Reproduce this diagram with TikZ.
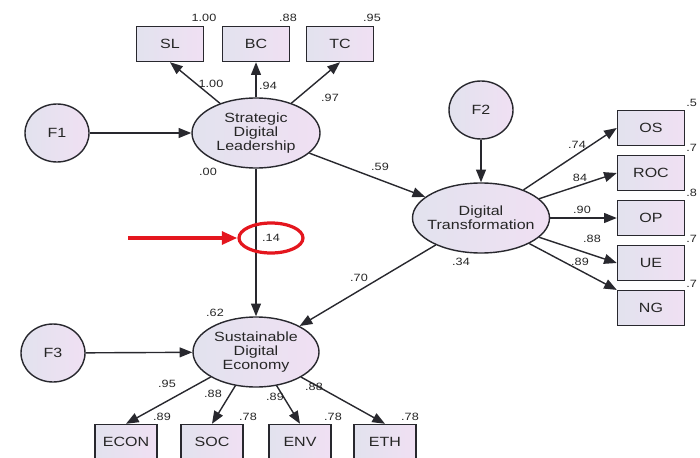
\documentclass[tikz,border=0pt]{standalone}
\usepackage{fontspec}
\setmainfont[FakeStretch=1.2]{Liberation Sans}
\usepackage{xcolor}
\usetikzlibrary{arrows.meta,positioning,shapes.geometric}
\definecolor{semleft}{RGB}{226,226,238}
\definecolor{semright}{RGB}{240,224,243}
\definecolor{semline}{RGB}{40,40,46}
\definecolor{hlred}{RGB}{228,22,30}

\begin{document}
\begin{tikzpicture}[
  x=0.25mm, y=-0.25mm,
  >={Triangle[length=9pt,width=7pt]},
  latent/.style={ellipse, draw=semline, left color=semleft, right color=semright, line width=1pt, align=center, inner xsep=-2.5mm, inner ysep=0pt, minimum width=32mm, minimum height=17.5mm, text=black!85, font=\fontsize{9.5}{9.8}\selectfont},
  factor/.style={ellipse, draw=semline, left color=semleft, right color=semright, line width=1pt, inner sep=0pt, minimum width=16mm, minimum height=14.5mm, text=black!85, font=\fontsize{9.5}{10}\selectfont},
  indic/.style={rectangle, draw=semline, left color=semleft, right color=semright, line width=1pt, inner sep=0pt, minimum width=16.75mm, minimum height=8.75mm, text=black!85, font=\fontsize{9.5}{10}\selectfont},
  coef/.style={inner sep=0pt, text=black!85, font=\fontsize{7.5}{8}\selectfont},
  hilite/.style={ellipse, draw=hlred, line width=2.3pt, inner sep=0pt, minimum width=16mm, minimum height=7.5mm, text=black!85, font=\fontsize{7.5}{8}\selectfont},
  line/.style={->, line width=1pt, semline},
  redline/.style={-{Triangle[length=11pt,width=9pt]}, line width=2.6pt, hlred}
]
\useasboundingbox (0,0) rectangle (700,457);

% Latent variables
\node[latent] (sdl) at (256,133) {Strategic\\Digital\\Leadership};
\node[latent, minimum width=34.25mm] (dt) at (481,218) {Digital\\Transformation};
\node[latent, minimum width=31.5mm] (sde) at (256,352) {Sustainable\\Digital\\Economy};

% Disturbances
\node[factor] (f1) at (57,133) {F1};
\node[factor] (f2) at (481,110) {F2};
\node[factor] (f3) at (53,353) {F3};

% Indicators (top row)
\node[indic] (sl) at (170,44) {SL};
\node[indic] (bc) at (256,44) {BC};
\node[indic] (tc) at (340,44) {TC};

% Indicators (right column)
\node[indic] (os) at (651,128) {OS};
\node[indic] (roc) at (651,173) {ROC};
\node[indic] (op) at (651,218) {OP};
\node[indic] (ue) at (651,263) {UE};
\node[indic] (ng) at (651,308) {NG};

% Indicators (bottom row)
\node[indic, minimum width=15.5mm] (econ) at (126,442) {ECON};
\node[indic, minimum width=15.5mm] (soc) at (212,442) {SOC};
\node[indic, minimum width=15.5mm] (env) at (300,442) {ENV};
\node[indic, minimum width=15.5mm] (eth) at (385,442) {ETH};

% Arrows
\draw[line] (f1) -- (sdl);
\draw[line] (sdl) -- (sl.south);
\draw[line] (sdl) -- (bc);
\draw[line] (sdl) -- (tc.south);
\draw[line] (sdl) -- (dt);
\draw[line] (sdl) -- (sde);
\draw[line] (f2) -- (dt);
\draw[line] (dt) -- (os.west);
\draw[line] (dt) -- (roc.west);
\draw[line] (dt) -- (op.west);
\draw[line] (dt) -- (ue.west);
\draw[line] (dt) -- (ng);
\draw[line] (dt) -- (sde);
\draw[line] (f3) -- (sde);
\draw[line] (sde) -- (econ.north);
\draw[line] (sde) -- (soc.north);
\draw[line] (sde) -- (env.north);
\draw[line] (sde) -- (eth.north);

% Coefficients
\node[coef] (r-sl) at (204,18) {1.00};
\node[coef] (r-bc) at (288,18) {.88};
\node[coef] (r-tc) at (372,18) {.95};
\node[coef] (w-sl) at (211,84) {1.00};
\node[coef] (w-bc) at (268,86) {.94};
\node[coef] (w-tc) at (330,98) {.97};
\node[coef] (r-sdl) at (208,172) {.00};
\node[coef] (w-dt) at (380,167) {.59};
\node[coef] (r-dt) at (461,262) {.34};
\node[coef] (w-sde) at (359,278) {.70};
\node[coef] (r-sde) at (215,313) {.62};
\node[coef] (w-os) at (577,145) {.74};
\node[coef] (w-roc) at (580,178) {84};
\node[coef] (w-op) at (582,210) {.90};
\node[coef] (w-ue) at (592,239) {.88};
\node[coef] (w-ng) at (580,262) {.89};
\node[coef, anchor=west] (r-os) at (686,103) {.5};
\node[coef, anchor=west] (r-roc) at (686,148) {.7};
\node[coef, anchor=west] (r-op) at (686,193) {.8};
\node[coef, anchor=west] (r-ue) at (686,239) {.7};
\node[coef, anchor=west] (r-ng) at (686,284) {.7};
\node[coef] (w-econ) at (167,384) {.95};
\node[coef] (w-soc) at (213,394) {.88};
\node[coef] (w-env) at (275,397) {.89};
\node[coef] (w-eth) at (314,387) {.88};
\node[coef] (r-econ) at (162,417) {.89};
\node[coef] (r-soc) at (248,417) {.78};
\node[coef] (r-env) at (333,417) {.78};
\node[coef] (r-eth) at (410,417) {.78};

% Highlight
\node[hilite] (hl) at (271,238) {.14};
\coordinate (redtail) at (128,238);
\draw[redline] (redtail) -- (hl.west);
\end{tikzpicture}
\end{document}
